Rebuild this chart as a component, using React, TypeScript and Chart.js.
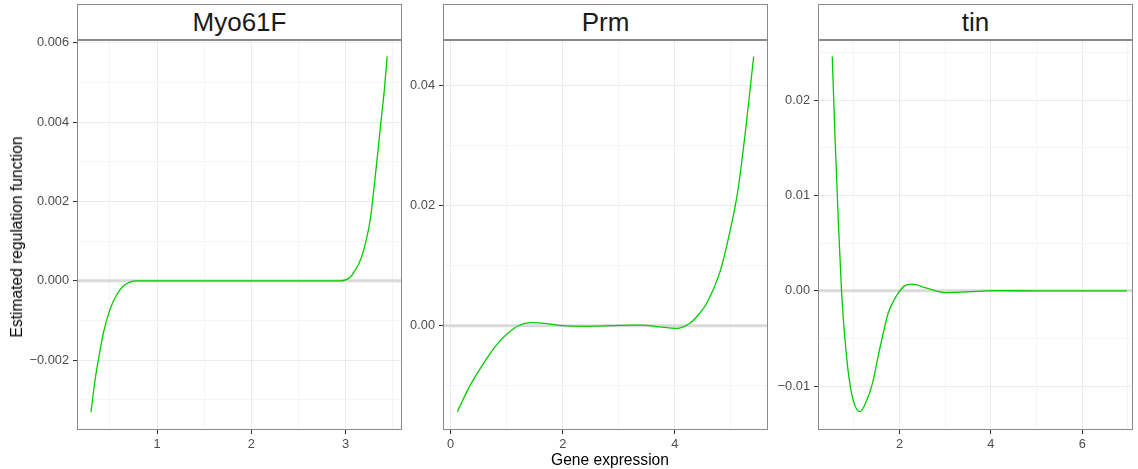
import React, { useEffect, useRef } from "react";
import { Chart, registerables } from "chart.js";

Chart.register(...registerables);

// ---------- data ----------
const panelTitles = ["Myo61F", "Prm", "tin"];

const myoX = [0.30, 0.343, 0.378, 0.431, 0.50, 0.573, 0.643, 0.714, 0.78, 1.5, 2.5, 2.95, 3.047, 3.08, 3.17, 3.26, 3.31, 3.365, 3.41, 3.44];
const myoY = [-0.00331, -0.0025, -0.002, -0.00132, -0.00073, -0.00035, -0.00013, -0.00003, 0, 0, 0, 0, 0.00009, 0.00019, 0.00061, 0.00154, 0.00255, 0.00381, 0.00482, 0.00566];

const prmX = [0.12, 0.31, 0.49, 0.67, 0.845, 1.02, 1.2, 1.44, 1.68, 1.98, 2.39, 2.87, 3.23, 3.4, 3.73, 4.03, 4.27, 4.42, 4.57, 4.8, 4.98, 5.13, 5.28, 5.41];
const prmY = [-0.01431, -0.0106, -0.0077, -0.0051, -0.0029, -0.00126, -0.00005, 0.0005, 0.0004, 0, -0.0001, 0, 0.0001, 0.0001, -0.0002, -0.00045, 0.0004, 0.00178, 0.0037, 0.0087, 0.0154, 0.0226, 0.0337, 0.0448];

const tinX = [0.527, 0.586, 0.659, 0.73, 0.84, 0.95, 1.133, 1.315, 1.425, 1.53, 1.643, 1.75, 1.862, 1.97, 2.1, 2.27, 2.6, 3.0, 3.47, 4.06, 5.0, 6.0, 6.98];
const tinY = [0.02456, 0.0163, 0.0074, 0, -0.00689, -0.01073, -0.01265, -0.01108, -0.00933, -0.00689, -0.00444, -0.00234, -0.00112, -0.00024, 0.0005, 0.0007, 0.00028, -0.00018, -0.0001, 0.00003, 0, 0, 0];

// axis limits
const xLimits = [[0.152, 3.597], [-0.137, 5.666], [0.215, 7.11]];
const yLimits = [[-0.003758, 0.00607], [-0.01736, 0.04754], [-0.01458, 0.02629]];

// ticks
const myoXMajor = [1, 2, 3];
const myoXMinor = [0.5, 1.5, 2.5, 3.5];
const myoXLabels = ["1", "2", "3"];
const myoYMajor = [-0.002, 0, 0.002, 0.004, 0.006];
const myoYMinor = [-0.003, -0.001, 0.001, 0.003, 0.005];
const myoYLabels = ["\u22120.002", "0.000", "0.002", "0.004", "0.006"];

const prmXMajor = [0, 2, 4];
const prmXMinor = [1, 3, 5];
const prmXLabels = ["0", "2", "4"];
const prmYMajor = [0, 0.02, 0.04];
const prmYMinor = [-0.01, 0.01, 0.03];
const prmYLabels = ["0.00", "0.02", "0.04"];

const tinXMajor = [2, 4, 6];
const tinXMinor = [1, 3, 5, 7];
const tinXLabels = ["2", "4", "6"];
const tinYMajor = [-0.01, 0, 0.01, 0.02];
const tinYMinor = [-0.005, 0.005, 0.015, 0.025];
const tinYLabels = ["\u22120.01", "0.00", "0.01", "0.02"];

const xAxisTitle = "Gene expression";
const yAxisTitle = "Estimated regulation function";

// ---------- layout ----------
const W = 1138;
const H = 469;
const PLOT_TOP = 40;
const PLOT_BOTTOM = 430;
const STRIP_TOP = 4;
const panelLeft = [77, 443, 818];
const panelRight = [402, 768, 1133];
const YW = 60;
const XH = 26;
const FONT = "'Liberation Sans', Arial, Helvetica, sans-serif";
const GREEN = "#00cd00";
const BORDER = "#8a8a8a";

const panels = [
  { x: myoX, y: myoY, xMajor: myoXMajor, xMinor: myoXMinor, xLabels: myoXLabels, yMajor: myoYMajor, yMinor: myoYMinor, yLabels: myoYLabels },
  { x: prmX, y: prmY, xMajor: prmXMajor, xMinor: prmXMinor, xLabels: prmXLabels, yMajor: prmYMajor, yMinor: prmYMinor, yLabels: prmYLabels },
  { x: tinX, y: tinY, xMajor: tinXMajor, xMinor: tinXMinor, xLabels: tinXLabels, yMajor: tinYMajor, yMinor: tinYMinor, yLabels: tinYLabels },
];

const idxOf = (arr: number[], v: number) => arr.findIndex((a) => Math.abs(a - v) < 1e-9);

const borderPlugin = {
  id: "panelBorder",
  afterDraw(chart: any) {
    const { ctx, chartArea } = chart;
    ctx.save();
    ctx.strokeStyle = BORDER;
    ctx.lineWidth = 1;
    ctx.strokeRect(chartArea.left + 0.5, chartArea.top + 0.5, chartArea.right - chartArea.left - 1, chartArea.bottom - chartArea.top - 1);
    ctx.restore();
  },
};

function makeScale(major: number[], minor: number[], labels: string[], min: number, max: number, isX: boolean) {
  const all = [...major, ...minor].sort((a, b) => a - b);
  return {
    type: "linear",
    min,
    max,
    afterBuildTicks: (s: any) => {
      s.ticks = all.map((v) => ({ value: v }));
    },
    afterFit: (s: any) => {
      if (isX) s.height = XH;
      else s.width = YW;
    },
    ticks: {
      autoSkip: false,
      maxRotation: 0,
      color: "#4d4d4d",
      padding: isX ? 3 : 4,
      font: { family: FONT, size: 12.8 },
      callback: (v: number) => {
        const i = idxOf(major, v);
        return i >= 0 ? labels[i] : "";
      },
    },
    grid: {
      drawOnChartArea: true,
      drawTicks: true,
      tickLength: 4,
      lineWidth: 1,
      color: (ctx: any) => (ctx.tick && idxOf(major, ctx.tick.value) >= 0 ? "#ebebeb" : "#f5f5f5"),
      tickColor: (ctx: any) => (ctx.tick && idxOf(major, ctx.tick.value) >= 0 ? "#333333" : "rgba(0,0,0,0)"),
    },
    border: { display: false },
  };
}

function Panel({ index }: { index: number }) {
  const ref = useRef<HTMLCanvasElement>(null);
  useEffect(() => {
    const p = panels[index];
    const [xMin, xMax] = xLimits[index];
    const [yMin, yMax] = yLimits[index];
    const curve = p.x.map((xv, i) => ({ x: xv, y: p.y[i] }));
    const zero = [
      { x: xMin, y: 0 },
      { x: xMax, y: 0 },
    ];
    const chart = new Chart(ref.current as HTMLCanvasElement, {
      type: "line",
      data: {
        datasets: [
          { data: curve, borderColor: GREEN, borderWidth: 1.3, pointRadius: 0, cubicInterpolationMode: "monotone", fill: false } as any,
          { data: zero, borderColor: "#d9d9d9", borderWidth: 3, pointRadius: 0, tension: 0, fill: false } as any,
        ],
      },
      options: {
        animation: false,
        responsive: false,
        events: [],
        layout: {
          padding: {
            left: panelLeft[index] - YW,
            right: W - panelRight[index],
            top: PLOT_TOP,
            bottom: H - PLOT_BOTTOM - XH,
          },
        },
        plugins: { legend: { display: false }, tooltip: { enabled: false }, title: { display: false } },
        scales: {
          x: makeScale(p.xMajor, p.xMinor, p.xLabels, xMin, xMax, true) as any,
          y: makeScale(p.yMajor, p.yMinor, p.yLabels, yMin, yMax, false) as any,
        },
      },
      plugins: [borderPlugin],
    });
    return () => chart.destroy();
  }, [index]);
  return (
    <canvas
      ref={ref}
      width={W}
      height={H}
      style={{ position: "absolute", left: 0, top: 0, width: W, height: H }}
    />
  );
}

export default function App() {
  return (
    <div style={{ position: "absolute", left: 0, top: 0, width: W, height: H, background: "#ffffff", overflow: "hidden", fontFamily: FONT }}>
      {panelTitles.map((t, i) => (
        <div
          key={t}
          style={{
            position: "absolute",
            left: panelLeft[i],
            top: STRIP_TOP,
            width: panelRight[i] - panelLeft[i],
            height: PLOT_TOP - STRIP_TOP,
            boxSizing: "border-box",
            border: `1px solid ${BORDER}`,
            background: "#ffffff",
            textAlign: "center",
            fontSize: 26,
            lineHeight: `${PLOT_TOP - STRIP_TOP - 2}px`,
            color: "#1a1a1a",
          }}
        >
          {t}
        </div>
      ))}
      {[0, 1, 2].map((i) => (
        <Panel key={i} index={i} />
      ))}
      <div
        style={{
          position: "absolute",
          left: 610,
          top: 460,
          transform: "translate(-50%, -50%)",
          whiteSpace: "nowrap",
          fontSize: 15.6,
          color: "#000",
        }}
      >
        {xAxisTitle}
      </div>
      <div
        style={{
          position: "absolute",
          left: 17,
          top: 237,
          transform: "translate(-50%, -50%) rotate(-90deg)",
          whiteSpace: "nowrap",
          fontSize: 15.6,
          color: "#000",
        }}
      >
        {yAxisTitle}
      </div>
    </div>
  );
}
